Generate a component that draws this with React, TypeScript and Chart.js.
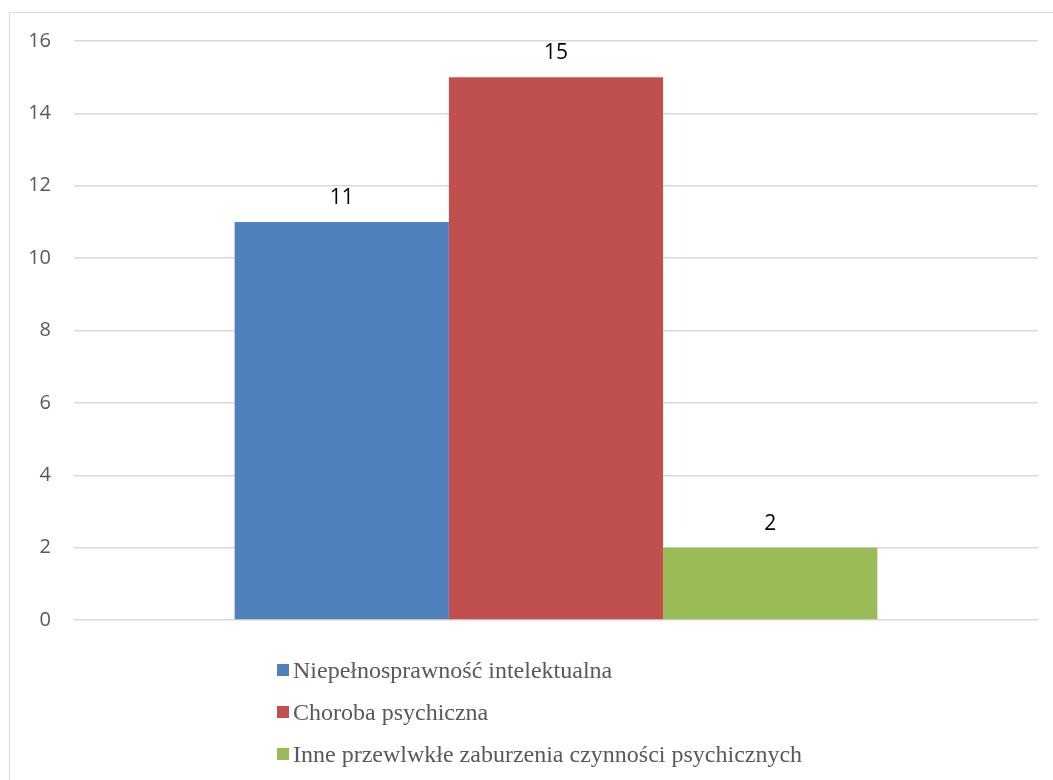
import React, { useEffect, useRef } from "react";
import { Chart, registerables } from "chart.js";

Chart.register(...registerables);

const categories = [""];
const seriesNames = [
  "Niepełnosprawność intelektualna",
  "Choroba psychiczna",
  "Inne przewlwkłe zaburzenia czynności psychicznych",
];
const seriesValues = [[11], [15], [2]];
const seriesColors = ["#4F81BD", "#C0504D", "#9BBB59"];
const yTicks = [0, 2, 4, 6, 8, 10, 12, 14, 16];

const valueLabels = {
  id: "valueLabels",
  afterDatasetsDraw(chart: any) {
    const ctx = chart.ctx;
    ctx.save();
    ctx.font = "21px 'Open Sans'";
    ctx.fillStyle = "#000000";
    ctx.textAlign = "center";
    ctx.textBaseline = "middle";
    chart.data.datasets.forEach((ds: any, i: number) => {
      const meta = chart.getDatasetMeta(i);
      meta.data.forEach((el: any, j: number) => {
        ctx.fillText(String(ds.data[j]), el.x, el.y - 24);
      });
    });
    ctx.restore();
  },
};

const serif = "\"Liberation Serif\", \"DejaVu Serif\", serif";

export default function App() {
  const ref = useRef<HTMLCanvasElement | null>(null);
  useEffect(() => {
    if (!ref.current) return;
    const chart = new Chart(ref.current, {
      type: "bar",
      data: {
        labels: categories,
        datasets: seriesNames.map((name, i) => ({
          label: name,
          data: seriesValues[i],
          backgroundColor: seriesColors[i],
          borderWidth: 0,
          barPercentage: 1,
          categoryPercentage: 0.6667,
        })),
      },
      options: {
        responsive: false,
        maintainAspectRatio: false,
        animation: false,
        layout: { padding: { top: 41, right: 15, bottom: 0, left: 0 } },
        plugins: { legend: { display: false }, tooltip: { enabled: false } },
        scales: {
          x: { display: false },
          y: {
            min: 0,
            max: 16,
            afterBuildTicks: (scale: any) => {
              scale.ticks = yTicks.map((v) => ({ value: v }));
            },
            afterFit: (scale: any) => {
              scale.width = 74;
            },
            border: { display: false },
            grid: { color: "#D9D9D9", lineWidth: 1.5, drawTicks: false },
            ticks: {
              padding: 23,
              color: "#595959",
              font: { family: "'Open Sans'", size: 20 },
            },
          },
        },
      },
      plugins: [valueLabels],
    });
    return () => chart.destroy();
  }, []);

  return (
    <div
      style={{
        position: "fixed",
        left: 0,
        top: 0,
        width: 1053,
        height: 780,
        overflow: "hidden",
        background: "#ffffff",
      }}
    >
      <div
        style={{
          position: "absolute",
          left: 9,
          top: 12,
          width: 1100,
          height: 900,
          border: "1px solid #D9D9D9",
          boxSizing: "border-box",
        }}
      />
      <div style={{ position: "absolute", left: 0, top: 0, width: 1053, height: 655 }}>
        <canvas ref={ref} width={1053} height={655} style={{ width: 1053, height: 655 }} />
      </div>
      <div style={{ position: "absolute", left: 277, top: 649, fontFamily: serif }}>
        {seriesNames.map((name, i) => (
          <div
            key={name}
            style={{ display: "flex", alignItems: "center", height: 42 }}
          >
            <span
              style={{
                display: "inline-block",
                width: 12,
                height: 12,
                background: seriesColors[i],
                marginRight: 4,
                flex: "none",
              }}
            />
            <span
              style={{
                fontFamily: serif,
                fontSize: 24,
                color: "#595959",
                lineHeight: "42px",
                whiteSpace: "nowrap",
              }}
            >
              {name}
            </span>
          </div>
        ))}
      </div>
    </div>
  );
}
